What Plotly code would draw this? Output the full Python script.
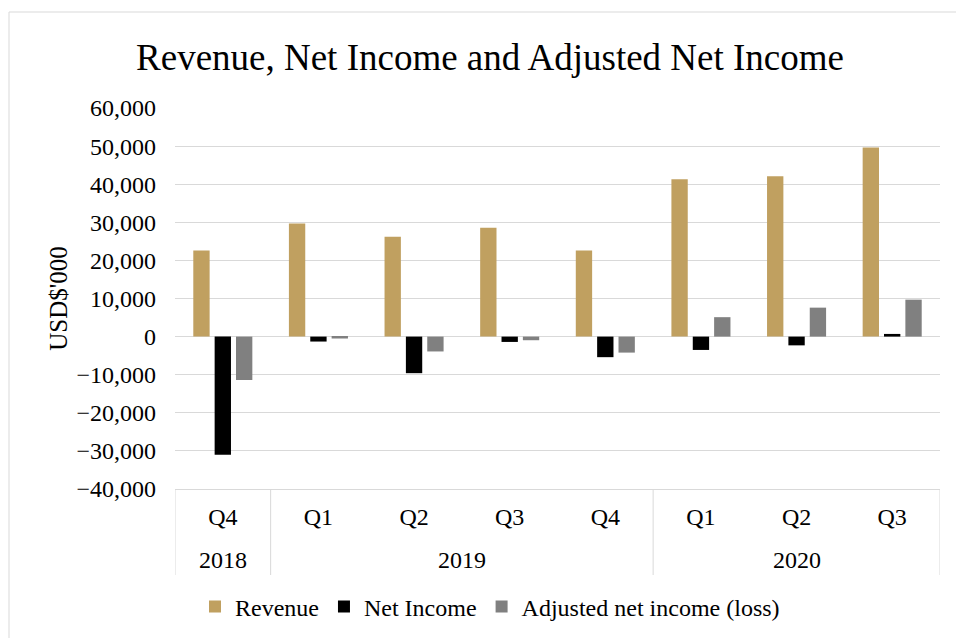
import plotly.graph_objects as go

years = ["2018", "2019", "2019", "2019", "2019", "2020", "2020", "2020"]
quarters = ["Q4", "Q1", "Q2", "Q3", "Q4", "Q1", "Q2", "Q3"]
revenue = [22600, 29700, 26200, 28600, 22600, 41300, 42100, 49600]
net_income = [-31000, -1300, -9600, -1400, -5400, -3500, -2300, 700]
adjusted = [-11400, -500, -3900, -950, -4200, 5100, 7600, 9700]

FONT = "Liberation Serif, Times New Roman, serif"
GRID = "#D9D9D9"
cats = [f"{y} {q}" for y, q in zip(years, quarters)]

fig = go.Figure()
fig.add_trace(go.Bar(name="Revenue", x=cats, y=revenue, marker=dict(color="#C0A060", line=dict(width=0))))
fig.add_trace(go.Bar(name="Net Income", x=cats, y=net_income, marker=dict(color="#000000", line=dict(width=0))))
fig.add_trace(go.Bar(name="Adjusted net income (loss)", x=cats, y=adjusted, marker=dict(color="#808080", line=dict(width=0))))

# year group boundaries and centres (from the years list)
n = len(years)
bounds = [-0.5] + [i - 0.5 for i in range(1, n) if years[i] != years[i - 1]] + [n - 0.5]
groups = []
for i, y in enumerate(years):
    if not groups or groups[-1][0] != y:
        groups.append([y, i, i])
    else:
        groups[-1][2] = i

plot_bottom_px, plot_height_px = 489, 381
div_bottom = (plot_bottom_px - 575) / plot_height_px
year_y = (plot_bottom_px - 560) / plot_height_px

shapes = [dict(type="line", xref="x", yref="paper", x0=b, x1=b, y0=0, y1=div_bottom,
               line=dict(color=GRID, width=1)) for b in bounds]
shapes.append(dict(type="rect", xref="paper", yref="paper",
                   x0=(9 - 175) / 765, x1=(975 - 175) / 765,
                   y0=(489 - 660) / 381, y1=(489 - 12) / 381,
                   line=dict(color=GRID, width=1), fillcolor="rgba(0,0,0,0)", layer="below"))

annotations = [dict(text=g[0], x=(g[1] + g[2]) / 2, xref="x", y=year_y, yref="paper",
                    xanchor="center", yanchor="middle", showarrow=False,
                    font=dict(family=FONT, size=24, color="#000000")) for g in groups]

fig.update_layout(
    width=956, height=638,
    margin=dict(l=175, r=16, t=108, b=149, autoexpand=False),
    paper_bgcolor="white", plot_bgcolor="white",
    font=dict(family=FONT, size=24, color="#000000"),
    barmode="group", bargap=0.33, bargroupgap=0.235,
    title=dict(text="Revenue, Net Income and Adjusted Net Income", x=490 / 956, xanchor="center",
               y=1 - 57 / 638, yanchor="middle", yref="container",
               font=dict(family=FONT, size=37, color="#000000")),
    showlegend=True,
    legend=dict(orientation="h", x=(490 - 175) / 765, xanchor="center", y=(489 - 607) / 381, yanchor="middle",
                font=dict(family=FONT, size=24), itemwidth=30, traceorder="normal"),
    shapes=shapes,
    annotations=annotations,
)
fig.update_yaxes(range=[-40000, 60000], dtick=10000, tickformat=",d",
                 showgrid=True, gridcolor=GRID, gridwidth=1,
                 zeroline=True, zerolinecolor=GRID, zerolinewidth=1,
                 showline=False, ticks="", ticklabelstandoff=18,
                 title=dict(text="USD$'000", font=dict(family=FONT, size=25), standoff=1))
fig.update_xaxes(type="category", tickmode="array", tickvals=cats, ticktext=quarters,
                 range=[-0.5, n - 0.5],
                 showline=True, linecolor=GRID, linewidth=1, showgrid=False,
                 ticks="", ticklabelstandoff=6, tickfont=dict(family=FONT, size=24))

fig.write_html("out.html", config={"displayModeBar": False},
               post_script="document.body.style.margin='0px';")
